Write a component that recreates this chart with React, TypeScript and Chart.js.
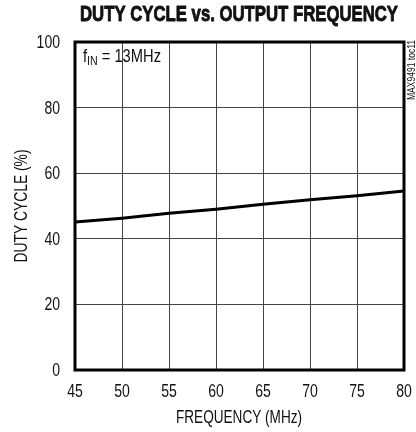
import React, { useEffect, useRef } from "react";
import { Chart, registerables } from "chart.js";

Chart.register(...registerables);

const FONT = '"Liberation Sans", Arial, Helvetica, sans-serif';

const chartTitle = "DUTY CYCLE vs. OUTPUT FREQUENCY";
const xAxisTitle = "FREQUENCY (MHz)";
const yAxisTitle = "DUTY CYCLE (%)";
const figureId = "MAX9491 toc11";

const frequencies = [45, 50, 55, 60, 65, 70, 75, 80];
const dutyCycle = [45.1, 46.3, 47.8, 49.0, 50.5, 51.9, 53.1, 54.6];
const xTicks = [45, 50, 55, 60, 65, 70, 75, 80];
const yTicks = [0, 20, 40, 60, 80, 100];

const TEXT = "#111";
const TICK_SCALE = 0.78;

function fitText(
  ctx: CanvasRenderingContext2D,
  text: string,
  x: number,
  y: number,
  font: string,
  sx: number,
  align: "left" | "center" | "right",
  rotate = 0,
  strokeW = 0
) {
  ctx.save();
  ctx.font = font;
  ctx.translate(x, y);
  if (rotate) ctx.rotate(rotate);
  ctx.scale(sx, 1);
  ctx.textAlign = align;
  ctx.textBaseline = "middle";
  ctx.fillStyle = TEXT;
  ctx.fillText(text, 0, 0);
  if (strokeW) {
    ctx.strokeStyle = TEXT;
    ctx.lineWidth = strokeW;
    ctx.lineJoin = "round";
    ctx.strokeText(text, 0, 0);
  }
  ctx.restore();
}

function scaleFor(ctx: CanvasRenderingContext2D, text: string, font: string, target: number) {
  ctx.save();
  ctx.font = font;
  const w = ctx.measureText(text).width;
  ctx.restore();
  return target / w;
}

const decorPlugin = {
  id: "decor",
  afterDraw(chart: any) {
    const { ctx, chartArea } = chart;
    const { left, right, top, bottom } = chartArea;
    ctx.save();
    // frame
    ctx.strokeStyle = "#000";
    ctx.lineWidth = 3;
    ctx.strokeRect(left, top, right - left, bottom - top);

    // tick labels (positions from the chart's scales)
    const tickFont = `18px ${FONT}`;
    const xs = chart.scales.x;
    xs.ticks.forEach((t: any) => {
      fitText(ctx, String(t.value), xs.getPixelForValue(t.value), 392, tickFont, TICK_SCALE, "center");
    });
    const ys = chart.scales.y;
    ys.ticks.forEach((t: any) => {
      fitText(ctx, String(t.value), 60, ys.getPixelForValue(t.value) + 1, tickFont, TICK_SCALE, "right");
    });

    // title
    const tFont = `bold 22px ${FONT}`;
    fitText(ctx, chartTitle, 239, 15, tFont, scaleFor(ctx, chartTitle, tFont, 318), "center", 0, 0.9);

    // axis titles
    const aFont = `18px ${FONT}`;
    fitText(ctx, xAxisTitle, 239, 418, aFont, scaleFor(ctx, xAxisTitle, aFont, 126), "center");
    fitText(ctx, yAxisTitle, 22, 206, aFont, scaleFor(ctx, yAxisTitle, aFont, 113), "center", -Math.PI / 2);

    // figure id
    const idFont = `10px ${FONT}`;
    fitText(ctx, figureId, 412, 70, idFont, scaleFor(ctx, figureId, idFont, 60), "center", -Math.PI / 2);

    // annotation f_IN = 13MHz
    const big = `18px ${FONT}`;
    const small = `13px ${FONT}`;
    ctx.save();
    ctx.font = big;
    const w1 = ctx.measureText("f").width;
    const w3 = ctx.measureText(" = 13MHz").width;
    ctx.font = small;
    const w2 = ctx.measureText("IN").width;
    const s = 78 / (w1 + w2 + w3);
    ctx.translate(83, 62);
    ctx.scale(s, 1);
    ctx.fillStyle = TEXT;
    ctx.textAlign = "left";
    ctx.textBaseline = "alphabetic";
    ctx.font = big;
    ctx.fillText("f", 0, 0);
    ctx.font = small;
    ctx.fillText("IN", w1, 3);
    ctx.font = big;
    ctx.fillText(" = 13MHz", w1 + w2, 0);
    ctx.restore();

    ctx.restore();
  },
};

export default function App() {
  const ref = useRef<HTMLCanvasElement>(null);

  useEffect(() => {
    if (!ref.current) return;
    const chart = new Chart(ref.current, {
      type: "line",
      data: {
        datasets: [
          {
            data: frequencies.map((f, i) => ({ x: f, y: dutyCycle[i] })),
            borderColor: "#000",
            borderWidth: 3,
            pointRadius: 0,
            tension: 0,
            fill: false,
          },
        ],
      },
      options: {
        animation: false,
        responsive: false,
        devicePixelRatio: 1,
        layout: { padding: { top: 42, right: 12, left: 0, bottom: 0 } },
        plugins: { legend: { display: false }, tooltip: { enabled: false } },
        scales: {
          x: {
            type: "linear",
            min: 45,
            max: 80,
            afterBuildTicks: (s: any) => {
              s.ticks = xTicks.map((v) => ({ value: v }));
            },
            afterFit: (s: any) => {
              s.height = 62;
            },
            grid: { color: "#444", lineWidth: 1, drawTicks: false },
            border: { display: false },
            ticks: { display: false },
          },
          y: {
            type: "linear",
            min: 0,
            max: 100,
            afterBuildTicks: (s: any) => {
              s.ticks = yTicks.map((v) => ({ value: v }));
            },
            afterFit: (s: any) => {
              s.width = 75;
            },
            grid: { color: "#444", lineWidth: 1, drawTicks: false },
            border: { display: false },
            ticks: { display: false },
          },
        },
      },
      plugins: [decorPlugin],
    });
    return () => chart.destroy();
  }, []);

  return (
    <div style={{ position: "absolute", left: 0, top: 0, width: 416, height: 432, background: "#fff" }}>
      <canvas ref={ref} width={416} height={432} />
    </div>
  );
}
